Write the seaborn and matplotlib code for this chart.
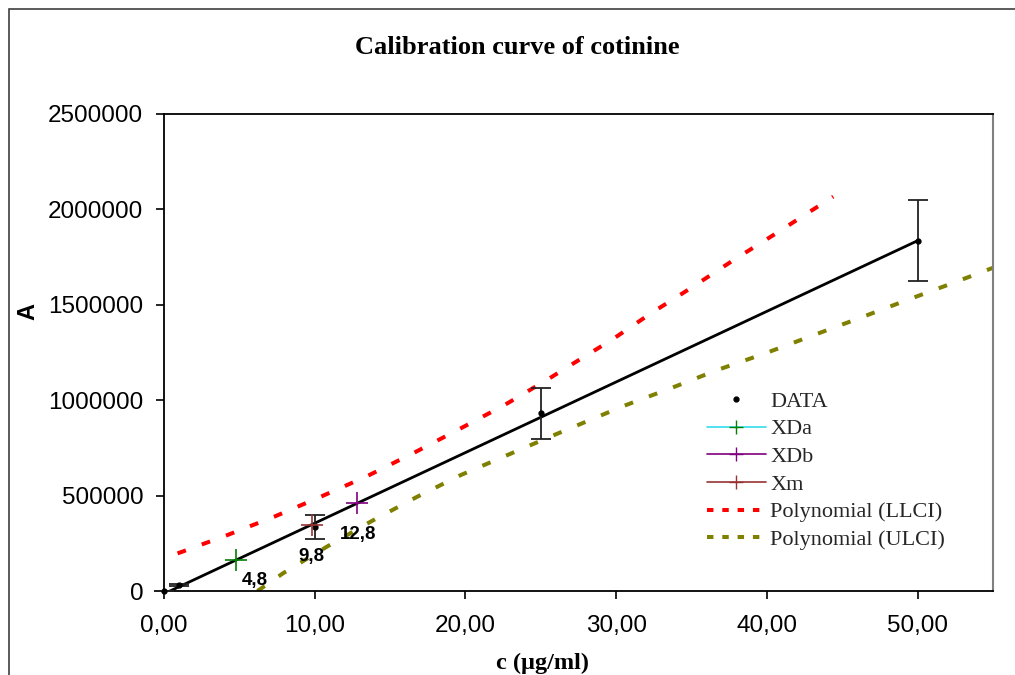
import matplotlib
matplotlib.use("Agg")
import matplotlib.pyplot as plt
import matplotlib.patches as mpatches
from matplotlib.lines import Line2D
from matplotlib.ticker import FuncFormatter, MultipleLocator
import seaborn as sns

# calibration data
data_c = [0, 1, 10, 25, 50]
data_A = [0, 31000, 333000, 931000, 1836000]
data_err = [0, 5000, 63000, 134000, 212000]

# regression line end points
fit_c = [0, 50]
fit_A = [-14800, 1836000]

# determined samples
xda_c, xda_A = 4.8, 163000
xdb_c, xdb_A = 12.8, 459000
xm_c, xm_A = 9.8, 348000

# confidence limit curves (polynomial trend lines)
llci_c = [0.9, 4.2, 7.3, 10.4, 13.5, 16.6, 19.7, 22.6, 25.5, 27.0, 29.7, 32.3,
          35.0, 37.8, 40.5, 43.2, 44.4]
llci_A = [197000, 293000, 389000, 494000, 603000, 725000, 853000, 975000,
          1111000, 1185000, 1316000, 1455000, 1590000, 1735000, 1869000,
          2006000, 2067000]
ulci_c = [6.2, 7.9, 10.8, 13.7, 16.8, 19.7, 22.8, 25.9, 30.5, 33.6, 36.7,
          39.9, 43.0, 46.1, 49.2, 52.3, 55.1]
ulci_A = [0, 93000, 232000, 363000, 494000, 608000, 713000, 818000, 970000,
          1062000, 1158000, 1246000, 1338000, 1429000, 1522000, 1613000, 1697000]

sns.set_theme(style="white")
plt.rcParams["font.family"] = ["Liberation Sans", "DejaVu Sans"]

fig = plt.figure(figsize=(10.15, 6.75), dpi=100)
ax = fig.add_axes([164 / 1015, 1 - 591 / 675, 829 / 1015, 477 / 675])

dash = (0, (2.2, 4.2))
sns.lineplot(x=llci_c, y=llci_A, ax=ax, color="#ff0000", lw=2.9, sort=False,
             linestyle=dash, errorbar=None)
sns.lineplot(x=ulci_c, y=ulci_A, ax=ax, color="#808000", lw=2.9, sort=False,
             linestyle=dash, errorbar=None)
sns.lineplot(x=fit_c, y=fit_A, ax=ax, color="black", lw=2, errorbar=None)

ax.errorbar(data_c, data_A, yerr=data_err, fmt="o", ms=3.5, color="black",
            ecolor="#222222", elinewidth=1.3, capsize=7, capthick=1.3,
            clip_on=False, zorder=5)

ax.plot([xda_c], [xda_A], marker="+", ms=16, mew=1.2, color="#00ffff",
        mec="#008000", zorder=6)
ax.plot([xdb_c], [xdb_A], marker="+", ms=16, mew=1.2, color="#800080", zorder=6)
ax.plot([xm_c], [xm_A], marker="+", ms=16, mew=1.2, color="#993333", zorder=6)

for cx, cy, dx, dy in [(xda_c, xda_A, 13, -15), (xm_c, xm_A, 0, -23),
                       (xdb_c, xdb_A, 1, -22.5)]:
    ax.annotate(f"{cx:.1f}".replace(".", ","), (cx, cy), xytext=(dx, dy),
                textcoords="offset points", ha="center", va="center",
                fontsize=13.5, fontweight="bold", color="black")

ax.set_xlim(0, 55)
ax.set_ylim(0, 2500000)
ax.set_xticks([0, 10, 20, 30, 40, 50])
ax.yaxis.set_major_locator(MultipleLocator(500000))
ax.xaxis.set_major_formatter(FuncFormatter(lambda v, p: f"{v:.2f}".replace(".", ",")))
ax.yaxis.set_major_formatter(FuncFormatter(lambda v, p: f"{int(v)}"))
ax.tick_params(axis="both", direction="out", length=6, width=1.2, color="black",
               labelsize=17.5, labelcolor="black", bottom=True, left=True)
ax.tick_params(axis="y", pad=9)
ax.tick_params(axis="x", pad=11)

for side in ["left", "bottom", "top"]:
    ax.spines[side].set_color("black")
    ax.spines[side].set_linewidth(1.3)
ax.spines["right"].set_color("#808080")
ax.spines["right"].set_linewidth(1.5)

ax.set_xlabel("c (µg/ml)", family="Liberation Serif", fontweight="bold",
              fontsize=17.5, color="black")
ax.xaxis.set_label_coords(0.456, -0.13)
ax.set_ylabel("A", fontweight="bold", fontsize=17, color="black")
ax.yaxis.set_label_coords(-0.15, 0.587)

fig.text(517 / 1015, 1 - 47 / 675, "Calibration curve of cotinine",
         family="Liberation Serif", fontweight="bold", fontsize=19,
         ha="center", va="center", color="black")

handles = [
    Line2D([], [], ls="none", marker="o", ms=3.5, color="black"),
    Line2D([], [], color="#33ddee", marker="+", ms=10, mew=1, mec="#008000", lw=1.2),
    Line2D([], [], color="#800080", marker="+", ms=10, mew=1, lw=1.2),
    Line2D([], [], color="#993333", marker="+", ms=10, mew=1, lw=1.2),
    Line2D([], [], color="#ff0000", lw=2.9, linestyle=(0, (1.6, 2.2))),
    Line2D([], [], color="#808000", lw=2.9, linestyle=(0, (1.6, 2.2))),
]
labels = ["DATA", "XDa", "XDb", "Xm", "Polynomial (LLCI)", "Polynomial (ULCI)"]
fig.legend(handles, labels, loc="center left",
           bbox_to_anchor=(707 / 1015, 1 - 470.5 / 675),
           frameon=False, borderpad=0, borderaxespad=0, handlelength=2.65,
           handletextpad=0.2, labelspacing=0.32,
           prop={"family": "Liberation Serif", "size": 16})

# outer chart frame, cut off at the right and bottom
fig.add_artist(mpatches.Rectangle((9 / 1015, -0.5), 2, 0.5 + 1 - 9 / 675,
                                  transform=fig.transFigure, fill=False,
                                  edgecolor="#404040", lw=1.2, clip_on=False))

fig.savefig("out.png", dpi=100)
